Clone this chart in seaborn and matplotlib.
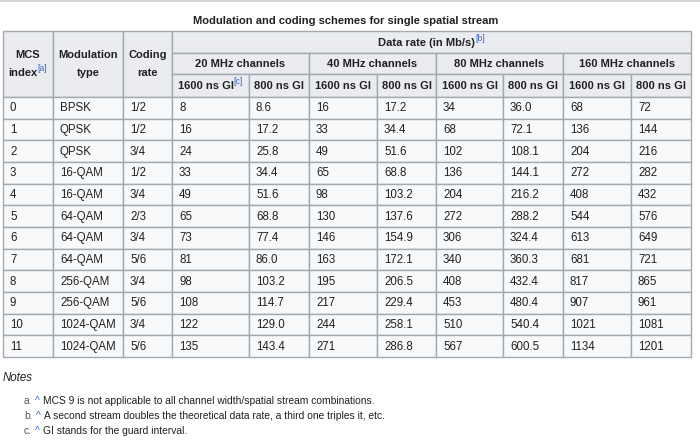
import pandas as pd
import matplotlib.pyplot as plt
from matplotlib.patches import Rectangle
import seaborn as sns

# Table data
mcs_index = [0, 1, 2, 3, 4, 5, 6, 7, 8, 9, 10, 11]
modulation = ["BPSK", "QPSK", "QPSK", "16-QAM", "16-QAM", "64-QAM", "64-QAM",
              "64-QAM", "256-QAM", "256-QAM", "1024-QAM", "1024-QAM"]
coding_rate = ["1/2", "1/2", "3/4", "1/2", "3/4", "2/3", "3/4", "5/6", "3/4", "5/6", "3/4", "5/6"]
rate_20_1600 = [8, 16, 24, 33, 49, 65, 73, 81, 98, 108, 122, 135]
rate_20_800 = [8.6, 17.2, 25.8, 34.4, 51.6, 68.8, 77.4, 86.0, 103.2, 114.7, 129.0, 143.4]
rate_40_1600 = [16, 33, 49, 65, 98, 130, 146, 163, 195, 217, 244, 271]
rate_40_800 = [17.2, 34.4, 51.6, 68.8, 103.2, 137.6, 154.9, 172.1, 206.5, 229.4, 258.1, 286.8]
rate_80_1600 = [34, 68, 102, 136, 204, 272, 306, 340, 408, 453, 510, 567]
rate_80_800 = [36.0, 72.1, 108.1, 144.1, 216.2, 288.2, 324.4, 360.3, 432.4, 480.4, 540.4, 600.5]
rate_160_1600 = [68, 136, 204, 272, 408, 544, 613, 681, 817, 907, 1021, 1134]
rate_160_800 = [72, 144, 216, 282, 432, 576, 649, 721, 865, 961, 1081, 1201]

title = "Modulation and coding schemes for single spatial stream"
channels = ["20 MHz channels", "40 MHz channels", "80 MHz channels", "160 MHz channels"]
gi_labels = ["1600 ns GI", "800 ns GI"]
notes = [("a.", "MCS 9 is not applicable to all channel width/spatial stream combinations."),
         ("b.", "A second stream doubles the theoretical data rate, a third one triples it, etc."),
         ("c.", "GI stands for the guard interval.")]

df = pd.DataFrame({
    "mcs": mcs_index, "mod": modulation, "rate": coding_rate,
    "r20a": rate_20_1600, "r20b": rate_20_800,
    "r40a": rate_40_1600, "r40b": rate_40_800,
    "r80a": rate_80_1600, "r80b": rate_80_800,
    "r160a": rate_160_1600, "r160b": rate_160_800,
})
fmts = ["{}", "{}", "{}", "{}", "{:.1f}", "{}", "{:.1f}", "{}", "{:.1f}", "{}", "{}"]

# styling
sns.set_theme(style="white")
plt.rcParams["font.family"] = ["Liberation Sans", "DejaVu Sans"]
TXT = "#202122"
LINK = "#3366cc"
BORDER = "#a2a9b1"
HEAD_BG = "#eaecf0"
CELL_BG = "#f8f9fa"
FS = 8.3     # body text
FSB = 8.05   # bold header text

# layout in pixels
col_edges = [3, 53, 123, 172, 249, 309, 377, 436, 503, 563, 631, 691]
head_edges = [31, 53, 74, 97]
row_h = (357 - 97) / len(df)

fig = plt.figure(figsize=(7, 4.47), dpi=100)
ax = fig.add_axes([0, 0, 1, 1])
ax.set_xlim(0, 700)
ax.set_ylim(447, 0)
ax.axis("off")
renderer = fig.canvas.get_renderer()


def cell(x0, x1, y0, y1, bg):
    ax.add_patch(Rectangle((x0, y0), x1 - x0, y1 - y0, facecolor=bg,
                           edgecolor=BORDER, linewidth=1.0))


def width_px(t):
    return t.get_window_extent(renderer).width


def head(x, y, s):
    ax.text(x, y, s, fontsize=FSB, fontweight="bold", color=TXT, ha="center", va="center")


def with_sup(xc, y, main, sup):
    t = ax.text(0, y, main, fontsize=FSB, fontweight="bold", color=TXT, ha="left", va="center")
    s = ax.text(0, y - 4, "[" + sup + "]", fontsize=FS * 0.75, color=LINK, ha="left", va="center")
    wm, ws = width_px(t), width_px(s)
    x0 = xc - (wm + ws) / 2
    t.set_x(x0)
    s.set_x(x0 + wm)


# top rule
ax.plot([0, 700], [1, 1], color="#c8ccd1", linewidth=1.2)

# title
head((col_edges[0] + col_edges[-1]) / 2 - 1, 21, title)

# header cells
top, bot = head_edges[0], head_edges[-1]
for i in range(3):
    cell(col_edges[i], col_edges[i + 1], top, bot, HEAD_BG)
xc = (col_edges[0] + col_edges[1]) / 2
head(xc, 55.5, "MCS")
with_sup(xc, 72.5, "index", "a")
for i, (l1, l2) in enumerate([("Modulation", "type"), ("Coding", "rate")], start=1):
    xc = (col_edges[i] + col_edges[i + 1]) / 2
    head(xc, 55.5, l1)
    head(xc, 72.5, l2)

cell(col_edges[3], col_edges[-1], head_edges[0], head_edges[1], HEAD_BG)
with_sup((col_edges[3] + col_edges[-1]) / 2, (head_edges[0] + head_edges[1]) / 2 + 0.5,
         "Data rate (in Mb/s)", "b")
for k, ch in enumerate(channels):
    a, b = col_edges[3 + 2 * k], col_edges[5 + 2 * k]
    cell(a, b, head_edges[1], head_edges[2], HEAD_BG)
    head((a + b) / 2, (head_edges[1] + head_edges[2]) / 2 + 0.5, ch)
    for j, gi in enumerate(gi_labels):
        c0, c1 = col_edges[3 + 2 * k + j], col_edges[4 + 2 * k + j]
        cell(c0, c1, head_edges[2], head_edges[3], HEAD_BG)
        yc = (head_edges[2] + head_edges[3]) / 2 + 0.5
        if k == 0 and j == 0:
            with_sup((c0 + c1) / 2, yc, gi, "c")
        else:
            head((c0 + c1) / 2, yc, gi)

# body cells
for r, row in enumerate(df.itertuples(index=False)):
    y0 = bot + r * row_h
    for c, val in enumerate(row):
        cell(col_edges[c], col_edges[c + 1], y0, y0 + row_h, CELL_BG)
        ax.text(col_edges[c] + 7, y0 + row_h / 2 + 0.5, fmts[c].format(val), fontsize=FS,
                color=TXT, ha="left", va="center")

# notes
ax.text(3, 378, "Notes", fontsize=FS, style="italic", color=TXT, ha="left", va="center")
for i, (lab, txt) in enumerate(notes):
    y = 401 + i * 15
    t = ax.text(24, y, lab, fontsize=7.4, color="#54595d", ha="left", va="center")
    x = 24 + width_px(t) + 3
    ax.text(x, y, "^", fontsize=7.4, color=LINK, ha="left", va="center")
    ax.text(x + 8, y, txt, fontsize=7.4, color=TXT, ha="left", va="center")

fig.savefig("out.png", dpi=100, facecolor="white")
